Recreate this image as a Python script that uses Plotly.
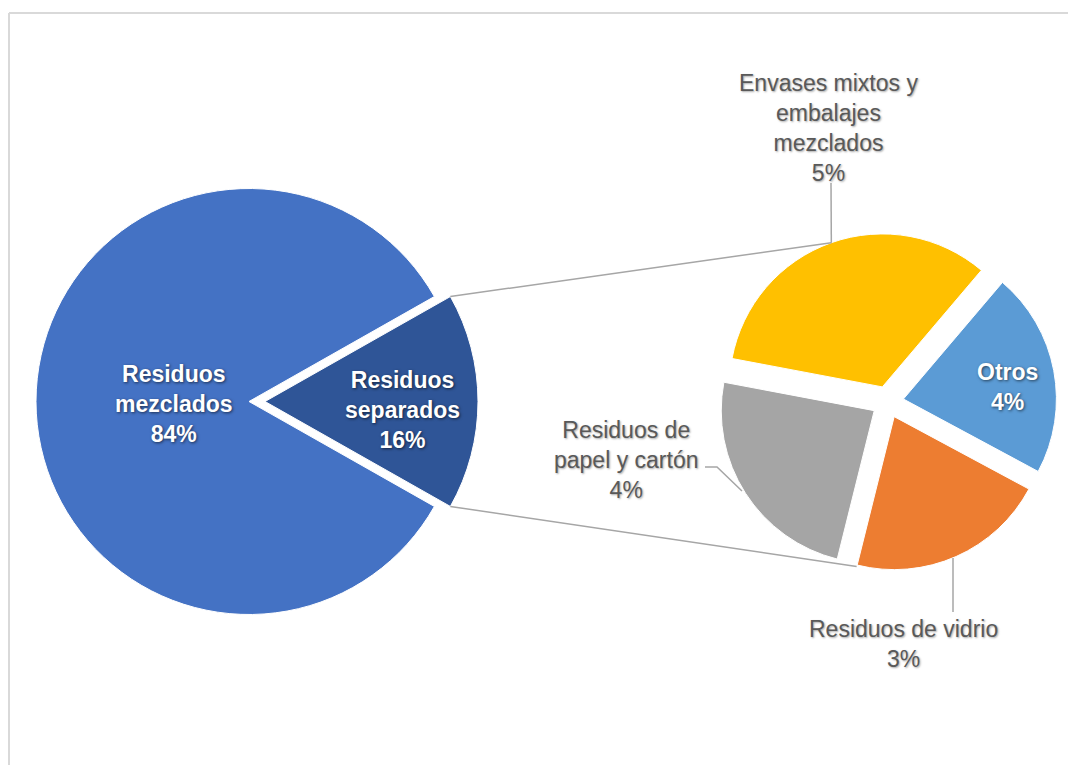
import math
import plotly.graph_objects as go

W, H = 1068, 765

# ---- data ----
main_labels = ["Residuos mezclados", "Residuos separados"]
main_values = [83.6, 16.4]
main_colors = ["#4472C4", "#2F5597"]
main_text = ["Residuos<br>mezclados", "Residuos<br>separados"]

sub_labels = ["Envases mixtos y embalajes mezclados", "Otros",
              "Residuos de vidrio", "Residuos de papel y cartón"]
sub_values = [5.45, 3.55, 3.45, 3.95]
sub_colors = ["#FFC000", "#5B9BD5", "#ED7D31", "#A5A5A5"]
sub_text = ["Envases mixtos y<br>embalajes<br>mezclados", "Otros",
            "Residuos de vidrio", "Residuos de<br>papel y cartón"]

# ---- geometry (pixels) ----
cx1, cy1, r1, p1px = 249.0, 401.5, 213.0, 16.0
cx2, cy2, r2, p2px = 887.7, 402.0, 153.0, 16.0
pull1 = p1px / r1
pull2 = p2px / r2


def px(x):
    return x / W


def py(y):
    return 1 - y / H


def domain(cx, cy, r, pull):
    half = r * (1 + pull)
    return dict(x=[px(cx - half), px(cx + half)], y=[py(cy + half), py(cy - half)])


total_main = sum(main_values)
sep_half = main_values[1] / total_main * 360 / 2
rot1 = 90 + sep_half
rot2 = -79.3

fig = go.Figure()
fig.add_trace(go.Pie(
    labels=main_labels, values=main_values, sort=False, direction="clockwise",
    rotation=rot1, pull=[0, pull1], domain=domain(cx1, cy1, r1, pull1),
    marker=dict(colors=main_colors, line=dict(color="white", width=1)),
    textinfo="none", showlegend=False, hoverinfo="label+percent"))
fig.add_trace(go.Pie(
    labels=sub_labels, values=sub_values, sort=False, direction="clockwise",
    rotation=rot2, pull=[pull2] * len(sub_values), domain=domain(cx2, cy2, r2, pull2),
    marker=dict(colors=sub_colors, line=dict(color="white", width=1)),
    textinfo="none", showlegend=False, hoverinfo="label+value"))

line_col = "#A6A6A6"
shapes = []


def seg(pts, color=line_col, width=1.5):
    path = "M " + " L ".join(f"{px(x):.6f},{py(y):.6f}" for x, y in pts)
    shapes.append(dict(type="path", xref="paper", yref="paper", path=path,
                       line=dict(color=color, width=width)))


# connectors between pies
a = math.radians(sep_half)
top_main = (cx1 + p1px + r1 * math.cos(a), cy1 - r1 * math.sin(a))
bot_main = (cx1 + p1px + r1 * math.cos(a), cy1 + r1 * math.sin(a))
yellow_mid = math.radians(90 - rot2 - sub_values[0] / sum(sub_values) * 360 / 2)
top_sub = (cx2 + (r2 + p2px) * math.cos(yellow_mid), cy2 - (r2 + p2px) * math.sin(yellow_mid))
b = math.radians(-100.7)
bot_sub = (cx2 + (r2 + p2px) * 0.99 * math.cos(b), cy2 - (r2 + p2px) * 0.99 * math.sin(b))
seg([top_main, top_sub])
seg([bot_main, bot_sub])

# leader lines
seg([(831, 183), top_sub])
seg([(705, 467), (717, 467), (742, 491)])
seg([(953, 558), (953, 612)])

# frame
shapes.append(dict(type="line", xref="paper", yref="paper", x0=px(9), x1=1.01,
                   y0=py(13), y1=py(13), line=dict(color="#D9D9D9", width=2)))
shapes.append(dict(type="line", xref="paper", yref="paper", x0=px(9), x1=px(9),
                   y0=py(13), y1=-0.01, line=dict(color="#D9D9D9", width=2)))

white_font = dict(family="Liberation Sans, Arial, sans-serif", size=23, color="white",
                  weight="bold", shadow="1px 1px 3px rgba(0,0,0,0.6)")
gray_font = dict(family="Liberation Sans, Arial, sans-serif", size=23, color="#595959",
                 shadow="1px 1px 2px rgba(0,0,0,0.35)")


def pct(v):
    return f"{round(v):.0f}%"


annotations = []
main_pos = [(174, 404), (402, 410)]
for t, v, (x, y) in zip(main_text, main_values, main_pos):
    annotations.append(dict(x=px(x), y=py(y), xref="paper", yref="paper",
                            text=f"{t}<br>{pct(v / total_main * 100)}",
                            showarrow=False, xanchor="center", yanchor="middle",
                            align="center", font=white_font))

sub_pos = [(828, 128), (1007, 387), (903, 644), (626, 460)]
for i, (t, v, (x, y)) in enumerate(zip(sub_text, sub_values, sub_pos)):
    annotations.append(dict(x=px(x), y=py(y), xref="paper", yref="paper",
                            text=f"{t}<br>{pct(v)}",
                            showarrow=False, xanchor="center", yanchor="middle",
                            align="center", font=white_font if sub_labels[i] == "Otros" else gray_font))

fig.update_layout(width=W, height=H, margin=dict(l=0, r=0, t=0, b=0),
                  paper_bgcolor="white", plot_bgcolor="white",
                  shapes=shapes, annotations=annotations)

fig.write_html("out.html", config={"displayModeBar": False},
               post_script="document.body.style.margin='0';")
